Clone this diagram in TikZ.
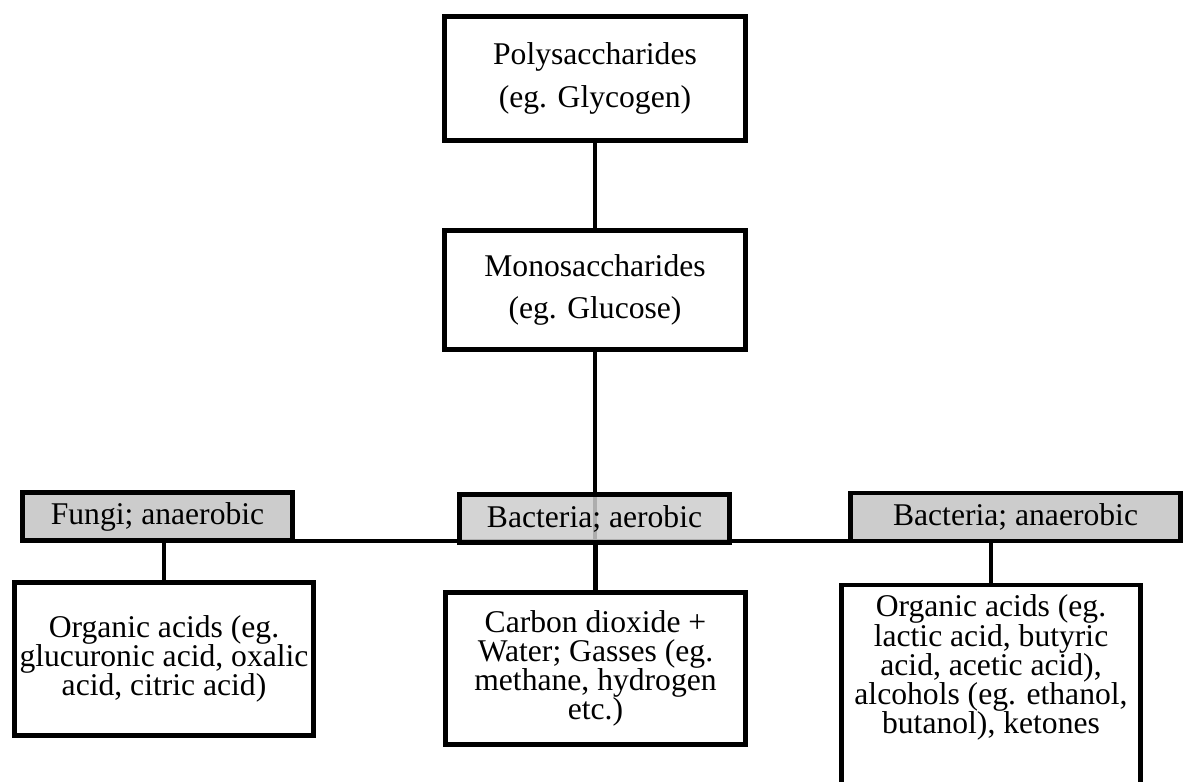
\documentclass[tikz,border=0pt]{standalone}
\usepackage{fontspec}
\setmainfont{Liberation Serif}
\definecolor{boxgray}{RGB}{204,204,204}

\begin{document}
\begin{tikzpicture}[x=0.02cm,y=-0.02cm,
  box/.style={draw,line width=2.8pt,align=center,inner sep=0pt,
    font=\fontsize{18}{24}\selectfont},
  tag/.style={draw,line width=2.8pt,fill=boxgray,inner sep=0pt,
    font=\fontsize{18}{22}\selectfont,minimum height=0.96cm},
  leaf/.style={draw,line width=2.8pt,align=center,inner sep=0pt,
    font=\fontsize{18}{16.6}\selectfont},
  link/.style={line width=2.8pt}]

\clip (0,0) rectangle (1189,781);

% sugars
\node[box,minimum width=6.02cm,minimum height=2.48cm] (poly) at (595,78.5) {Polysaccharides\\(eg. Glycogen)};
\node[box,minimum width=6.02cm,minimum height=2.38cm] (mono) at (595,290) {Monosaccharides\\(eg. Glucose)};

\coordinate (hub) at (595,541);

\draw[link] (poly) -- (mono);
\draw[link] (mono) -- (hub);

% organisms
\node[tag,minimum width=5.4cm] (fungi) at (157.5,516.5) {Fungi; anaerobic};
\node[tag,minimum width=6.6cm] (anaer) at (1015.5,517) {Bacteria; anaerobic};
\draw[link] (fungi.east |- hub) -- (anaer.west |- hub);
\node[tag,minimum width=5.4cm,fill opacity=0.85,text opacity=1] (aer) at (594.5,518.5) {Bacteria; aerobic};

% products
\node[leaf,minimum width=5.98cm,minimum height=3.06cm] (acidsL) at (164,659) {Organic acids (eg.\\glucuronic acid, oxalic\\acid, citric acid)};
\node[leaf,minimum width=6.0cm,minimum height=3.04cm] (gases) at (595.5,668.5) {Carbon dioxide +\\Water; Gasses (eg.\\methane, hydrogen\\etc.)};
\node[leaf,anchor=north] (acidsR) at (991,582.5) {\parbox[t][4.8cm][t]{5.98cm}{\centering\vspace*{0.2cm}Organic acids (eg.\\lactic acid, butyric\\acid, acetic acid),\\alcohols (eg. ethanol,\\butanol), ketones}};

\draw[link] (acidsL.north) -- (acidsL.north |- fungi.south);
\draw[link] (gases.north) -- (gases.north |- aer.south);
\draw[link] (acidsR.north) -- (acidsR.north |- anaer.south);

\end{tikzpicture}
\end{document}
